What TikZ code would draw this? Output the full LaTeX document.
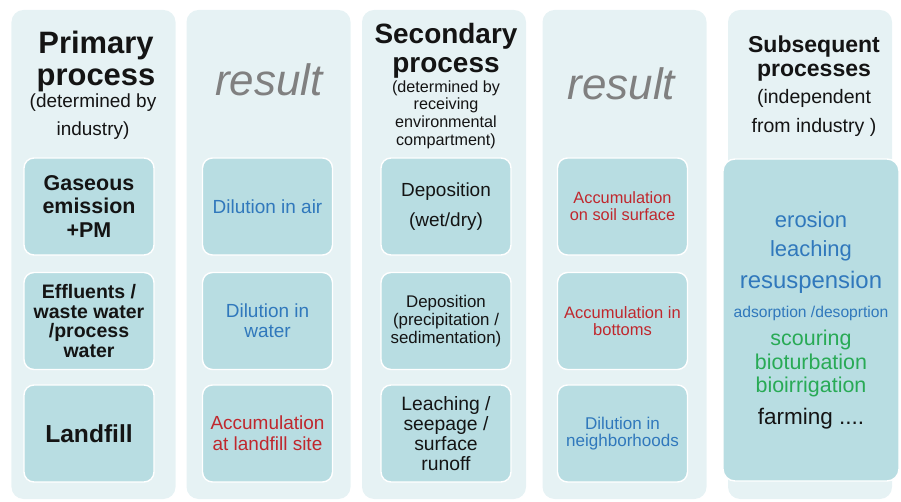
\documentclass[tikz,border=0pt]{standalone}
\usepackage{fontspec}
\setmainfont{Liberation Sans}
\usepackage{xcolor}
\usepackage{tikz}

\definecolor{panelbg}{RGB}{230,242,244}
\definecolor{cellbg}{RGB}{184,221,226}
\definecolor{txtblue}{RGB}{48,120,188}
\definecolor{txtred}{RGB}{192,39,45}
\definecolor{txtgreen}{RGB}{40,170,85}
\definecolor{txtgray}{RGB}{128,128,128}
\definecolor{txtdark}{RGB}{20,20,20}
\newcommand{\setfs}[2]{\fontsize{#1}{#2}\selectfont}

\begin{document}
\begin{tikzpicture}[
  panel/.style={rectangle, rounded corners=0.24cm, fill=panelbg, minimum width=3.28cm,
    minimum height=9.78cm, inner sep=0pt},
  cell/.style={rectangle, rounded corners=0.2cm, fill=cellbg, draw=white, line width=0.8pt,
    minimum width=2.6cm, minimum height=1.94cm, align=center, inner sep=0pt, text=txtdark},
  bigcell/.style={cell, rounded corners=0.24cm, minimum width=3.52cm, minimum height=6.44cm},
  head/.style={align=center, text=txtdark, inner sep=0pt},
  note/.style={align=center, text=txtdark, inner sep=0pt},
  res/.style={text=txtgray, font=\itshape\setfs{25}{30}, inner sep=0pt}
]
\useasboundingbox (0,0) rectangle (18.02,10.02);

% columns
\node[panel] (p1) at (1.87,4.93) {};
\node[panel] (p2) at (5.37,4.93) {};
\node[panel] (p3) at (8.88,4.93) {};
\node[panel] (p4) at (12.49,4.93) {};
\node[panel] (p5) at (16.2,4.93) {};

% primary process
\node[head, font=\bfseries\setfs{17.6}{18.2}] (prim) at (1.92,8.79) {Primary\\process};
\node[note, font=\setfs{10.8}{16}] (primnote) at (1.86,7.68) {(determined by\\industry)};
\node[cell, font=\bfseries\setfs{12.2}{13.4}] (gas) at (1.78,5.89) {Gaseous\\emission\\+PM};
\node[cell, font=\bfseries\setfs{11.1}{11.1}] (eff) at (1.78,3.60) {Effluents /\\waste water\\/process\\water};
\node[cell, font=\bfseries\setfs{14}{16}] (land) at (1.78,1.35) {Landfill};

% result of primary process
\node[res] (res1) at (5.38,8.42) {result};
\node[cell, text=txtblue, font=\setfs{10.8}{12}] (air) at (5.35,5.89) {Dilution in air};
\node[cell, text=txtblue, font=\setfs{10.8}{11.4}] (water) at (5.35,3.60) {Dilution in\\water};
\node[cell, text=txtred, font=\setfs{10.8}{12}] (site) at (5.35,1.35) {Accumulation\\at landfill site};

% secondary process
\node[head, font=\bfseries\setfs{15.9}{16.5}] (sec) at (8.92,9.0) {Secondary\\process};
\node[note, font=\setfs{9.2}{10.1}] (secnote) at (8.92,7.73) {(determined by\\receiving\\environmental\\compartment)};
\node[cell, font=\setfs{10.8}{17}] (dep1) at (8.92,5.89) {Deposition\\(wet/dry)};
\node[cell, font=\setfs{9.6}{10.2}] (dep2) at (8.92,3.60) {Deposition\\(precipitation /\\sedimentation)};
\node[cell, font=\setfs{11}{11.4}] (leach) at (8.92,1.35) {Leaching /\\seepage /\\surface\\runoff};

% result of secondary process
\node[res] (res2) at (12.43,8.35) {result};
\node[cell, text=txtred, font=\setfs{9.3}{9.7}] (soil) at (12.45,5.89) {Accumulation\\on soil surface};
\node[cell, text=txtred, font=\setfs{9.4}{9.4}] (bottom) at (12.45,3.60) {Accumulation in\\bottoms};
\node[cell, text=txtblue, font=\setfs{9.7}{9.7}] (neigh) at (12.45,1.35) {Dilution in\\neighborhoods};

% subsequent processes
\node[head, font=\bfseries\setfs{13.1}{14}] (subs) at (16.28,8.85) {Subsequent\\processes};
\node[note, font=\setfs{11.1}{17}] (subsnote) at (16.28,7.76) {(independent\\from industry )};
\node[bigcell, font=\setfs{12.2}{13.1}] (list) at (16.22,3.62) {%
  {\color{txtblue}\setfs{12.5}{13.1}erosion}\\[3.4pt]
  {\color{txtblue}\setfs{12.5}{13.1}leaching}\\[5.1pt]
  {\color{txtblue}\setfs{13.6}{13.1}resuspension}\\[3.4pt]
  {\color{txtblue}\setfs{8.9}{13.1}adsorption /desoprtion}\\[2.8pt]
  {\color{txtgreen}scouring}\\[0.6pt]
  {\color{txtgreen}bioturbation}\\
  {\color{txtgreen}bioirrigation}\\[5.1pt]
  {\setfs{12.8}{13.1}farming ....}};

\end{tikzpicture}
\end{document}
